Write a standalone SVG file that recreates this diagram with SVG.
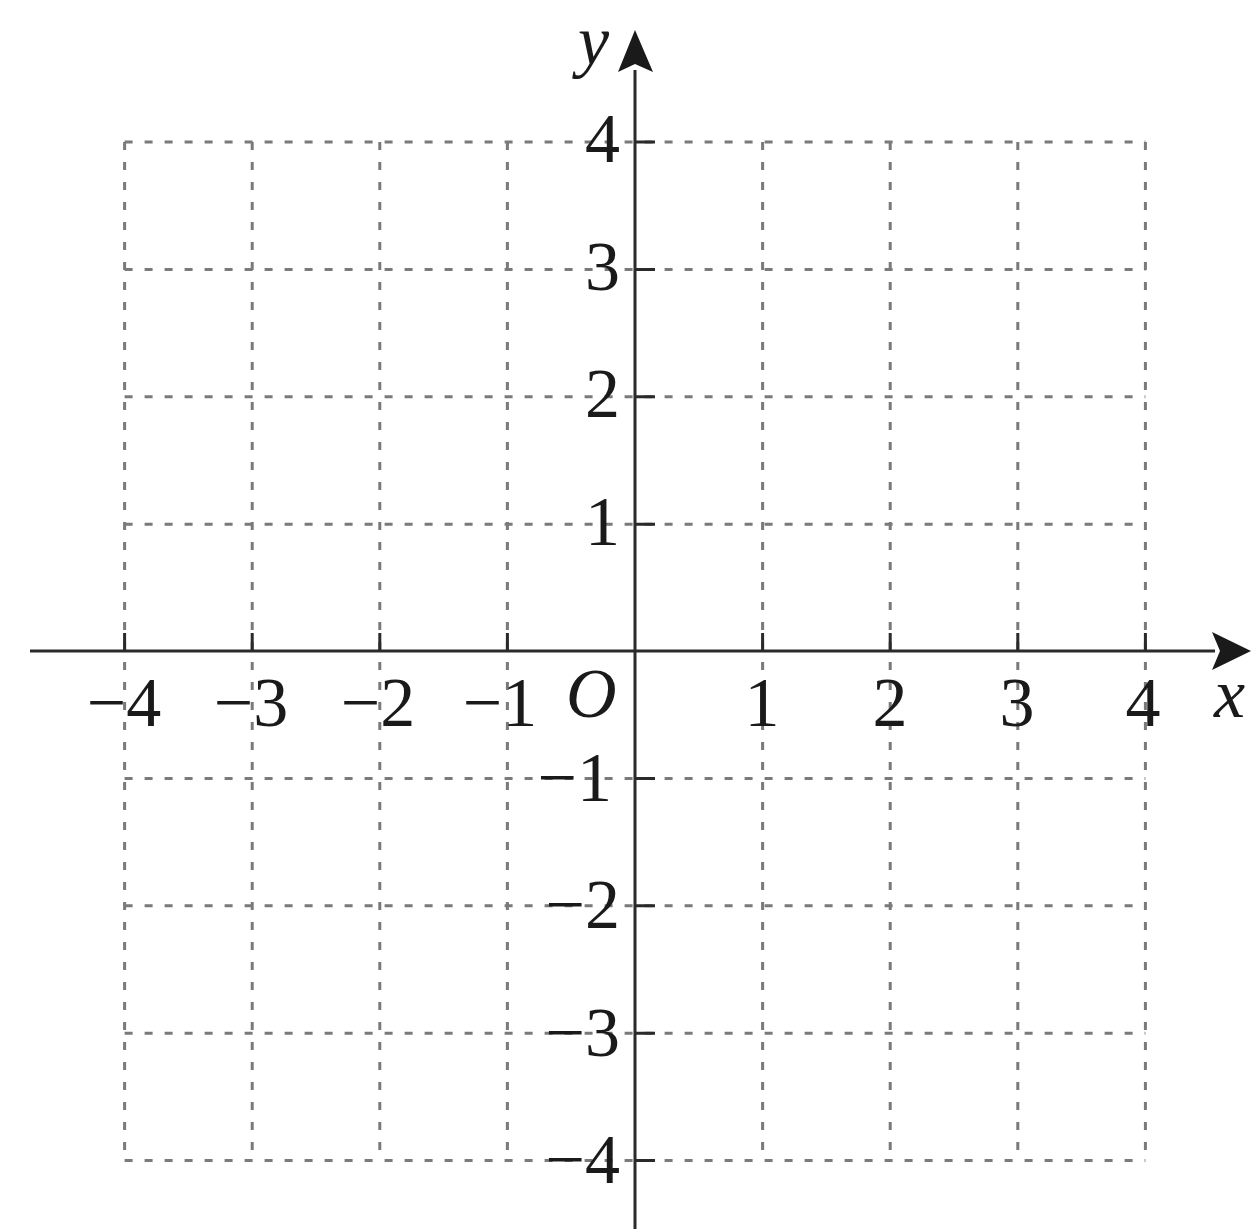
<svg xmlns="http://www.w3.org/2000/svg" width="1251" height="1229" viewBox="0 0 1251 1229">
<style>
.grid{stroke:#7a7a7a;stroke-width:3;stroke-dasharray:8 12;fill:none}
.axis{stroke:#2a2a2a;stroke-width:3;fill:none}
.tick{stroke:#2a2a2a;stroke-width:3}
.num{font-family:"Liberation Serif","Times New Roman",serif;font-size:70px;fill:#1a1a1a}
.it{font-family:"Liberation Serif","Times New Roman",serif;font-size:70px;font-style:italic;fill:#1a1a1a}
</style>
<rect width="1251" height="1229" fill="#ffffff"/>
<g id="grid">
<path class="grid" d="M124.6 142V1161M252.2 142V1161M379.8 142V1161M507.4 142V1161M762.6 142V1161M890.2 142V1161M1017.8 142V1161M1145.4 142V1161"/>
<path class="grid" d="M124.6 142H1145.4M124.6 269.4H1145.4M124.6 396.8H1145.4M124.6 524.2H1145.4M124.6 778.4H1145.4M124.6 905.8H1145.4M124.6 1033.2H1145.4M124.6 1160.6H1145.4"/>
</g>
<g id="connectors">
<path class="axis" d="M30 651H1215"/>
<path class="axis" d="M635 1229V70"/>
<polygon points="1251,651 1212,632 1220,651 1212,670" fill="#1a1a1a"/>
<polygon points="635,30 618,72 635,64 653,72" fill="#1a1a1a"/>
<path class="tick" d="M124.6 651V633M252.2 651V633M379.8 651V633M507.4 651V633M762.6 651V633M890.2 651V633M1017.8 651V633M1145.4 651V633"/>
<path class="tick" d="M635 142H655M635 269.4H655M635 396.8H655M635 524.2H655M635 778.4H655M635 905.8H655M635 1033.2H655M635 1160.6H655"/>
</g>
<g id="x-labels" class="num" text-anchor="middle">
<text x="124" y="726">−4</text>
<text x="251" y="726">−3</text>
<text x="378" y="726">−2</text>
<text x="500" y="726">−1</text>
<text x="762" y="726">1</text>
<text x="890" y="726">2</text>
<text x="1017" y="726">3</text>
<text x="1143" y="726">4</text>
</g>
<g id="y-labels" class="num" text-anchor="end">
<text x="620" y="162">4</text>
<text x="620" y="290">3</text>
<text x="620" y="417">2</text>
<text x="620" y="545">1</text>
<text x="612" y="801">−1</text>
<text x="620" y="928">−2</text>
<text x="620" y="1056">−3</text>
<text x="620" y="1183">−4</text>
</g>
<g id="axis-names" class="it">
<text x="566" y="717">O</text>
<text x="578" y="64">y</text>
<text x="1214" y="717">x</text>
</g>
</svg>
